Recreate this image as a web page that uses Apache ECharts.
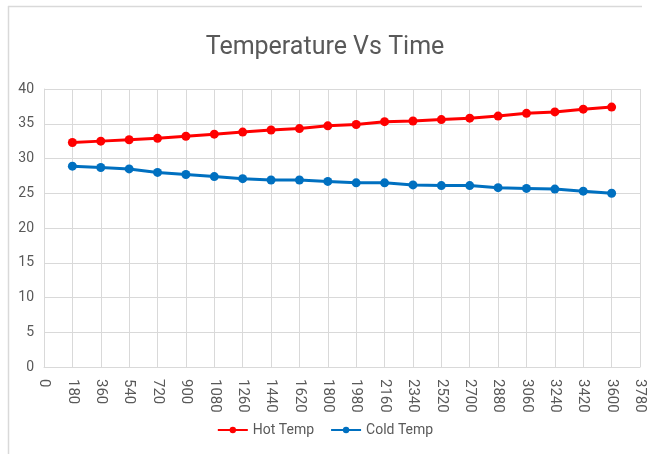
<!DOCTYPE html>
<html>
<head>
<meta charset="utf-8">
<script src="https://cdn.jsdelivr.net/npm/echarts@6/dist/echarts.min.js"></script>
<style>html,body{margin:0;padding:0;background:#fff}#c{width:650px;height:454px}</style>
</head>
<body>
<div id="c"></div>
<script>
const times = [180,360,540,720,900,1080,1260,1440,1620,1800,1980,2160,2340,2520,2700,2880,3060,3240,3420,3600];
const hotTemp = [32.3,32.5,32.7,32.9,33.2,33.5,33.8,34.1,34.3,34.7,34.9,35.3,35.4,35.6,35.8,36.1,36.5,36.7,37.1,37.4];
const coldTemp = [28.9,28.7,28.5,28.0,27.7,27.4,27.1,26.9,26.9,26.7,26.5,26.5,26.2,26.1,26.1,25.8,25.7,25.6,25.3,25.0];
const seriesNames = ['Hot Temp','Cold Temp'];
const titleText = 'Temperature Vs Time';

const font = 'Roboto,"Noto Sans",sans-serif';
const chart = echarts.init(document.getElementById('c'), null, {renderer:'canvas'});
chart.setOption({
  animation:false,
  backgroundColor:'#fff',
  title:{text:titleText,left:'center',top:30,textStyle:{fontFamily:font,fontSize:25,fontWeight:'normal',color:'#595959'}},
  graphic:[
    {type:'line',shape:{x1:8,y1:6.5,x2:642,y2:6.5},style:{stroke:'#d9d9d9',lineWidth:1.5}},
    {type:'line',shape:{x1:8.5,y1:6,x2:8.5,y2:454},style:{stroke:'#d9d9d9',lineWidth:1.5}}
  ],
  legend:{bottom:12,left:'center',itemWidth:30,itemHeight:8,itemGap:16,
    textStyle:{fontFamily:font,fontSize:14,color:'#595959'},data:seriesNames},
  grid:{left:44,right:10,top:89,bottom:87},
  xAxis:{type:'value',min:0,max:3780,interval:180,
    axisLine:{lineStyle:{color:'#d9d9d9'}},axisTick:{show:false},
    splitLine:{show:true,lineStyle:{color:'#d9d9d9'}},
    axisLabel:{rotate:-90,color:'#595959',fontFamily:font,fontSize:15,margin:12,formatter:v=>String(v)}},
  yAxis:{type:'value',min:0,max:40,interval:5,
    axisLine:{show:true,lineStyle:{color:'#d9d9d9'}},axisTick:{show:false},
    splitLine:{lineStyle:{color:'#d9d9d9'}},
    axisLabel:{color:'#595959',fontFamily:font,fontSize:14,margin:10}},
  series:[
    {name:seriesNames[0],type:'line',data:times.map((t,i)=>[t,hotTemp[i]]),
     symbol:'circle',symbolSize:9,lineStyle:{color:'#ff0000',width:3},itemStyle:{color:'#ff0000'}},
    {name:seriesNames[1],type:'line',data:times.map((t,i)=>[t,coldTemp[i]]),
     symbol:'circle',symbolSize:9,lineStyle:{color:'#0070c0',width:3},itemStyle:{color:'#0070c0'}}
  ]
});
</script>
</body>
</html>
